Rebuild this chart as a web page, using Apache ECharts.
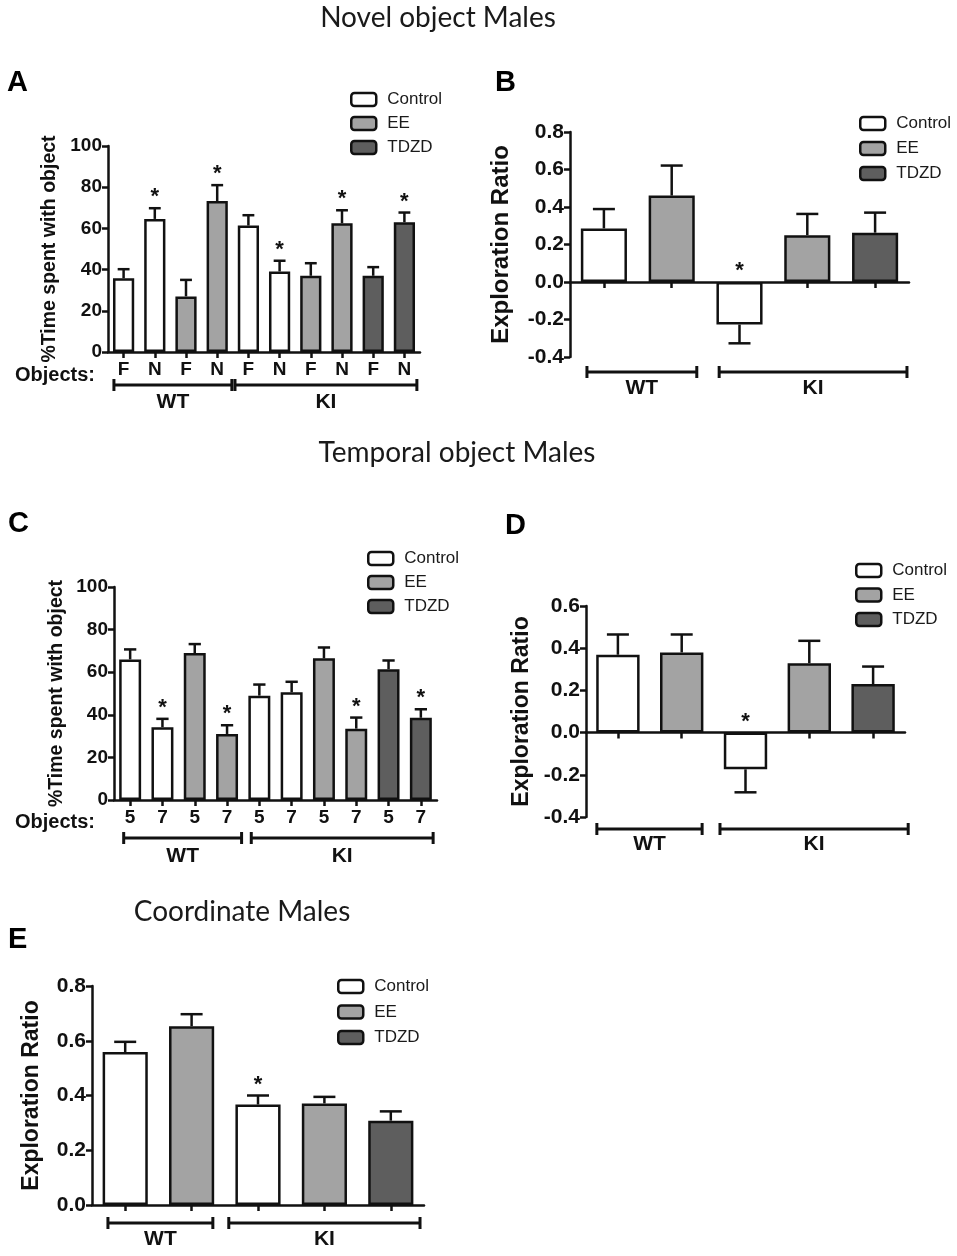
<!DOCTYPE html>
<html><head><meta charset="utf-8">
<script src="https://cdn.jsdelivr.net/npm/echarts@6/dist/echarts.min.js"></script>
<style>html,body{margin:0;padding:0;background:#fff}#c{width:957px;height:1256px}</style>
</head><body><div id="c"></div>
<script>
// ---------------- DATA ----------------
const treatments = ['Control', 'EE', 'TDZD'];

// Panel A: Novel object (Objects F / N)
const aObjects   = ['F','N','F','N','F','N','F','N','F','N'];
const aTreatment = ['Control','Control','EE','EE','Control','Control','EE','EE','TDZD','TDZD'];
const aMean = [35.8, 64.6, 27.0, 73.3, 61.4, 39.1, 37.0, 62.5, 37.0, 63.0];
const aSem  = [4.4, 5.2, 8.0, 7.7, 5.0, 5.2, 6.1, 6.3, 4.2, 4.7];
const aSig  = [0, 1, 0, 1, 0, 1, 0, 1, 0, 1];
const aGroups = [['WT', 0, 3], ['KI', 4, 9]];

// Panel B: Novel object exploration ratio
const bTreatment = ['Control','EE','Control','EE','TDZD'];
const bMean = [0.286, 0.461, -0.227, 0.250, 0.263];
const bSem  = [0.103, 0.160, 0.100, 0.113, 0.107];
const bSig  = [0, 0, 1, 0, 0];
const bGroups = [['WT', 0, 1], ['KI', 2, 4]];

// Panel C: Temporal object (Objects 5 / 7)
const cObjects   = ['5','7','5','7','5','7','5','7','5','7'];
const cTreatment = ['Control','Control','EE','EE','Control','Control','EE','EE','TDZD','TDZD'];
const cMean = [66.0, 34.2, 69.0, 31.0, 49.0, 50.6, 66.5, 33.5, 61.4, 38.6];
const cSem  = [4.7, 3.9, 4.2, 4.1, 5.2, 4.9, 5.1, 5.2, 4.1, 4.0];
const cSig  = [0, 1, 0, 1, 0, 0, 0, 1, 0, 1];
const cGroups = [['WT', 0, 3], ['KI', 4, 9]];

// Panel D: Temporal object exploration ratio
const dTreatment = ['Control','EE','Control','EE','TDZD'];
const dMean = [0.369, 0.380, -0.174, 0.329, 0.230];
const dSem  = [0.096, 0.085, 0.109, 0.106, 0.083];
const dSig  = [0, 0, 1, 0, 0];
const dGroups = [['WT', 0, 1], ['KI', 2, 4]];

// Panel E: Coordinate exploration ratio
const eTreatment = ['Control','EE','Control','EE','TDZD'];
const eMean = [0.559, 0.653, 0.367, 0.371, 0.308];
const eSem  = [0.037, 0.044, 0.033, 0.024, 0.034];
const eSig  = [0, 0, 1, 0, 0];
const eGroups = [['WT', 0, 1], ['KI', 2, 4]];

const titles = ['Novel object Males', 'Temporal object Males', 'Coordinate Males'];
const panelLetters = ['A', 'B', 'C', 'D', 'E'];
const yNames = ['%Time spent with object', 'Exploration Ratio', '%Time spent with object', 'Exploration Ratio', 'Exploration Ratio'];

// ---------------- STYLE / LAYOUT ----------------
const COLORS = { Control: '#ffffff', EE: '#a3a3a3', TDZD: '#5e5e5e' };
const INK = '#111111';
const SANS = '"Liberation Sans", Arial, sans-serif';
const TITLE_FONT = '28px Lato, "Open Sans", sans-serif';

const panels = [
  { cats: aObjects, treat: aTreatment, mean: aMean, sem: aSem, sig: aSig, groups: aGroups,
    yMin: 0, yMax: 100, yInt: 20, dec: 0, showCats: true,
    grid: { left: 108, top: 146, width: 312, height: 206 }, nameGap: 48, nameSize: 19.5, tickSize: 19,
    legend: { left: 345, top: 86, gap: 7 }, br: { off: 33, lab: 50, pads: [0.31, 0.47, 0.43, 0.40] } },
  { cats: bTreatment.map(() => ''), treat: bTreatment, mean: bMean, sem: bSem, sig: bSig, groups: bGroups,
    yMin: -0.4, yMax: 0.8, yInt: 0.2, dec: 1, showCats: false,
    grid: { left: 570, top: 132, width: 339, height: 225 }, nameGap: 57, nameSize: 24, tickSize: 21,
    legend: { left: 854, top: 110, gap: 8 }, br: { off: 15, lab: 31, pads: [0.25, 0.37, 0.30, 0.47] } },
  { cats: cObjects, treat: cTreatment, mean: cMean, sem: cSem, sig: cSig, groups: cGroups,
    yMin: 0, yMax: 100, yInt: 20, dec: 0, showCats: true,
    grid: { left: 114, top: 587, width: 323, height: 213 }, nameGap: 47, nameSize: 19.5, tickSize: 19,
    legend: { left: 362, top: 545, gap: 7 }, br: { off: 38, lab: 56, pads: [0.2, 0.45, 0.25, 0.38] } },
  { cats: dTreatment.map(() => ''), treat: dTreatment, mean: dMean, sem: dSem, sig: dSig, groups: dGroups,
    yMin: -0.4, yMax: 0.6, yInt: 0.2, dec: 1, showCats: false,
    grid: { left: 586, top: 606, width: 319, height: 211 }, nameGap: 53, nameSize: 23, tickSize: 21,
    legend: { left: 850, top: 557, gap: 7.5 }, br: { off: 12, lab: 27, pads: [0.33, 0.32, 0.40, 0.55] } },
  { cats: eTreatment.map(() => ''), treat: eTreatment, mean: eMean, sem: eSem, sig: eSig, groups: eGroups,
    yMin: 0, yMax: 0.8, yInt: 0.2, dec: 1, showCats: false,
    grid: { left: 92, top: 986, width: 332, height: 219 }, nameGap: 49, nameSize: 23, tickSize: 21,
    legend: { left: 332, top: 973, gap: 8.5 }, br: { off: 18, lab: 34, pads: [0.26, 0.32, 0.44, 0.44] } }
];

const grids = [], xAxes = [], yAxes = [], series = [], legends = [];

panels.forEach((p, k) => {
  grids.push(Object.assign({ containLabel: false }, p.grid));
  xAxes.push({
    type: 'category', gridIndex: k, data: p.cats,
    axisLine: { show: true, onZero: true, lineStyle: { color: INK, width: 2.5 } },
    axisTick: { show: true, alignWithLabel: true, length: 6, lineStyle: { color: INK, width: 2.5 } },
    axisLabel: { show: p.showCats, color: INK, fontWeight: 'bold', fontSize: 19, fontFamily: SANS, margin: 8 },
    splitLine: { show: false }
  });
  yAxes.push({
    type: 'value', gridIndex: k, min: p.yMin, max: p.yMax, interval: p.yInt,
    name: yNames[k], nameLocation: 'middle', nameGap: p.nameGap,
    nameTextStyle: { color: INK, fontWeight: 'bold', fontSize: p.nameSize, fontFamily: SANS },
    axisLine: { show: true, onZero: false, lineStyle: { color: INK, width: 2.5 } },
    axisTick: { show: true, length: 6, lineStyle: { color: INK, width: 2.5 } },
    axisLabel: {
      color: INK, fontWeight: 'bold', fontSize: p.tickSize, fontFamily: SANS, margin: 6,
      formatter: v => (Math.abs(v) < 1e-9 ? 0 : v).toFixed(p.dec)
    },
    splitLine: { show: false }
  });
  treatments.forEach(t => {
    series.push({
      type: 'bar', name: t, xAxisIndex: k, yAxisIndex: k, stack: 'p' + k,
      barWidth: '68%', z: 2,
      data: p.mean.map((v, i) => (p.treat[i] === t ? v : '-')),
      itemStyle: { color: COLORS[t], borderColor: INK, borderWidth: 2.5 },
      emphasis: { disabled: true }, animation: false
    });
  });
  // error bars + significance stars
  series.push({
    type: 'custom', xAxisIndex: k, yAxisIndex: k, z: 3, clip: false, animation: false,
    encode: { x: 0, y: 1 }, silent: true,
    data: p.mean.map((v, i) => [i, v, p.sem[i], p.sig[i]]),
    renderItem: function (params, api) {
      const i = api.value(0), m = api.value(1), s = api.value(2), sg = api.value(3);
      const dir = m >= 0 ? 1 : -1;
      const p0 = api.coord([i, m]);
      const p1 = api.coord([i, m + dir * s]);
      const band = api.size([1, 0])[0];
      const cap = Math.min(band * 0.38, 22);
      const ls = { stroke: INK, lineWidth: 2.5 };
      const children = [
        { type: 'line', shape: { x1: p0[0], y1: p0[1], x2: p1[0], y2: p1[1] }, style: ls },
        { type: 'line', shape: { x1: p1[0] - cap / 2, y1: p1[1], x2: p1[0] + cap / 2, y2: p1[1] }, style: ls }
      ];
      if (sg) {
        const base = dir > 0 ? p1[1] : api.coord([i, 0])[1];
        children.push({
          type: 'text', x: p0[0], y: base - 11,
          style: { text: '*', font: 'bold 22px ' + SANS, fill: INK, align: 'center', verticalAlign: 'middle',
                   textAlign: 'center', textVerticalAlign: 'middle' }
        });
      }
      return { type: 'group', children: children };
    }
  });
  // WT / KI group brackets
  series.push({
    type: 'custom', xAxisIndex: k, yAxisIndex: k, z: 3, clip: false, animation: false,
    encode: { x: 0, y: 1 }, silent: true,
    data: p.groups.map(g => [g[1], p.yMin]),
    renderItem: function (params, api) {
      const g = p.groups[params.dataIndex];
      const band = api.size([1, 0])[0];
      const a = api.coord([g[1], p.yMin]);
      const b = api.coord([g[2], p.yMin]);
      const cs = params.coordSys;
      const bottom = cs.y + cs.height;
      const padL = p.br.pads[params.dataIndex * 2], padR = p.br.pads[params.dataIndex * 2 + 1];
      const xs = a[0] - padL * band, xe = b[0] + padR * band;
      const y = bottom + p.br.off;
      const ls = { stroke: INK, lineWidth: 3 };
      return { type: 'group', children: [
        { type: 'line', shape: { x1: xs, y1: y, x2: xe, y2: y }, style: ls },
        { type: 'line', shape: { x1: xs, y1: y - 6, x2: xs, y2: y + 6 }, style: ls },
        { type: 'line', shape: { x1: xe, y1: y - 6, x2: xe, y2: y + 6 }, style: ls },
        { type: 'text', x: (xs + xe) / 2, y: bottom + p.br.lab,
          style: { text: g[0], font: 'bold 21px ' + SANS, fill: INK, align: 'center', verticalAlign: 'middle',
                   textAlign: 'center', textVerticalAlign: 'middle' } }
      ] };
    }
  });
  legends.push({
    data: treatments, orient: 'vertical', left: p.legend.left, top: p.legend.top,
    itemWidth: 25, itemHeight: 13, itemGap: p.legend.gap, icon: 'roundRect',
    selectedMode: false,
    itemStyle: { borderColor: INK, borderWidth: 2.5 },
    textStyle: { color: '#1a1a1a', fontSize: 17, fontFamily: SANS, padding: [0, 0, 0, 6] }
  });
});

const graphics = [
  { type: 'text', x: 438, y: 18, style: { text: titles[0], font: TITLE_FONT, fill: '#1a1a1a', align: 'center', verticalAlign: 'middle' } },
  { type: 'text', x: 457, y: 453, style: { text: titles[1], font: TITLE_FONT, fill: '#1a1a1a', align: 'center', verticalAlign: 'middle' } },
  { type: 'text', x: 242, y: 912, style: { text: titles[2], font: TITLE_FONT, fill: '#1a1a1a', align: 'center', verticalAlign: 'middle' } },
  { type: 'text', x: 7, y: 83, style: { text: panelLetters[0], font: 'bold 29px ' + SANS, fill: '#000', align: 'left', verticalAlign: 'middle' } },
  { type: 'text', x: 495, y: 83, style: { text: panelLetters[1], font: 'bold 29px ' + SANS, fill: '#000', align: 'left', verticalAlign: 'middle' } },
  { type: 'text', x: 8, y: 524, style: { text: panelLetters[2], font: 'bold 29px ' + SANS, fill: '#000', align: 'left', verticalAlign: 'middle' } },
  { type: 'text', x: 505, y: 526, style: { text: panelLetters[3], font: 'bold 29px ' + SANS, fill: '#000', align: 'left', verticalAlign: 'middle' } },
  { type: 'text', x: 8, y: 940, style: { text: panelLetters[4], font: 'bold 29px ' + SANS, fill: '#000', align: 'left', verticalAlign: 'middle' } },
  { type: 'text', x: 15, y: 375, style: { text: 'Objects:', font: 'bold 20px ' + SANS, fill: INK, align: 'left', verticalAlign: 'middle' } },
  { type: 'text', x: 15, y: 822, style: { text: 'Objects:', font: 'bold 20px ' + SANS, fill: INK, align: 'left', verticalAlign: 'middle' } }
];

const chart = echarts.init(document.getElementById('c'), null, { renderer: 'canvas' });
chart.setOption({
  backgroundColor: '#ffffff',
  animation: false,
  grid: grids, xAxis: xAxes, yAxis: yAxes, series: series, legend: legends,
  graphic: graphics
});
</script></body></html>
